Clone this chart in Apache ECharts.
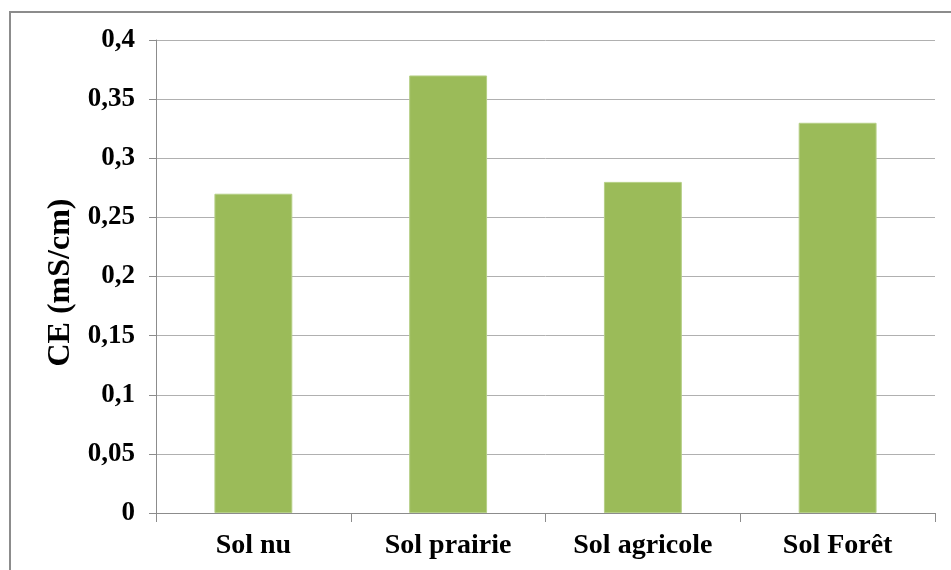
<!DOCTYPE html>
<html>
<head>
<meta charset="utf-8">
<script src="https://cdn.jsdelivr.net/npm/echarts@6/dist/echarts.min.js"></script>
<style>
  html, body { margin: 0; padding: 0; background: #fff; }
  #chart { width: 951px; height: 570px; }
</style>
</head>
<body>
<div id="chart"></div>
<script>
// Electrical conductivity per soil type
const categories = ['Sol nu', 'Sol prairie', 'Sol agricole', 'Sol Forêt'];
const ceValues = [0.27, 0.37, 0.28, 0.33];
const yMin = 0, yMax = 0.4, yStep = 0.05;

const font = '"Liberation Serif", "Times New Roman", serif';
const chart = echarts.init(document.getElementById('chart'));

chart.setOption({
  animation: false,
  backgroundColor: '#ffffff',
  graphic: [{
    type: 'rect',
    shape: { x: 10, y: 12, width: 960, height: 580 },
    style: { fill: 'none', stroke: '#8c8c8c', lineWidth: 2 },
    silent: true
  }],
  grid: { left: 156, right: 16, top: 40, bottom: 57 },
  xAxis: {
    type: 'category',
    data: categories,
    axisLine: { lineStyle: { color: '#8c8c8c', width: 1 } },
    axisTick: { show: true, alignWithLabel: false, length: 9, lineStyle: { color: '#8c8c8c' } },
    axisLabel: {
      fontFamily: font, fontWeight: 'bold', fontSize: 28, color: '#000',
      margin: 19
    }
  },
  yAxis: {
    type: 'value',
    min: yMin, max: yMax, interval: yStep,
    name: 'CE (mS/cm)',
    nameLocation: 'middle',
    nameGap: 77,
    nameRotate: 90,
    nameTextStyle: {
      fontFamily: font, fontWeight: 'bold', fontSize: 32, color: '#000',
      padding: [0, 12, 0, 0]
    },
    axisLine: { show: true, lineStyle: { color: '#8c8c8c', width: 1 } },
    axisTick: { show: true, length: 7, lineStyle: { color: '#8c8c8c' } },
    splitLine: { lineStyle: { color: '#b0b0b0', width: 1 } },
    axisLabel: {
      fontFamily: font, fontWeight: 'bold', fontSize: 27, color: '#000',
      margin: 21,
      formatter: v => String(+v.toFixed(2)).replace('.', ',')
    }
  },
  series: [{
    type: 'bar',
    data: ceValues,
    barWidth: '40%',
    itemStyle: { color: '#9bbb59', borderColor: '#b5cf85', borderWidth: 1 }
  }]
});
</script>
</body>
</html>
